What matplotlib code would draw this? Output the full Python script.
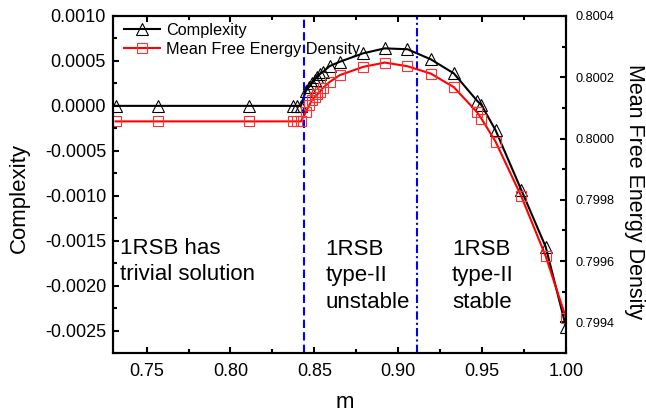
import matplotlib
matplotlib.use('Agg')
import matplotlib.pyplot as plt
from matplotlib.ticker import MultipleLocator, FormatStrFormatter

plt.rcParams['font.family'] = ['Liberation Sans', 'DejaVu Sans']
plt.rcParams['axes.unicode_minus'] = False

# data
m = [0.7315, 0.7566, 0.8110, 0.8374, 0.8396, 0.8420, 0.8449, 0.8469, 0.8485,
     0.8501, 0.8517, 0.8533, 0.8552, 0.8592, 0.8652, 0.8791, 0.8920, 0.9055,
     0.9194, 0.9331, 0.9470, 0.9496, 0.9580, 0.9734, 0.9879, 1.0000]
complexity = [0, 0, 0, 0, 0, 0, 0.000165, 0.000213, 0.000251, 0.000287,
              0.000324, 0.000354, 0.000380, 0.000443, 0.000491, 0.000585,
              0.000640, 0.000630, 0.000518, 0.000362, 0.000057, 0.000009,
              -0.000270, -0.000938, -0.001569, -0.002460]
mfed = [0.800056, 0.800056, 0.800056, 0.800056, 0.800056, 0.800056,
        0.800086, 0.800108, 0.800125, 0.800135, 0.800144, 0.800152,
        0.800166, 0.800185, 0.800207, 0.800234, 0.800248, 0.800236,
        0.800212, 0.800168, 0.800086, 0.800065, 0.799990, 0.799811,
        0.799616, 0.799414]
m_unstable = 0.8438
m_stable = 0.911

fig = plt.figure(figsize=(6.46, 4.13), dpi=100)
ax = fig.add_axes([113/646, 1-353/413, 453/646, 337/413])
ax2 = ax.twinx()

l1, = ax.plot(m, complexity, color='black', lw=1.5, marker='^', ms=8,
              mfc='none', mec='black', mew=0.8, label='Complexity')
l2, = ax2.plot(m, mfed, color='red', lw=1.5, marker='s', ms=7,
               mfc='none', mec='#ff3030', mew=0.8, label='Mean Free Energy Density')

ax.axvline(m_unstable, color='#0000ff', lw=1.5, dashes=(4, 2))
ax.axvline(m_stable, color='#0000ff', lw=1.5, dashes=(4, 1.5, 1, 1.5))

ax.set_xlim(0.73, 1.0)
ax.set_ylim(-0.00275, 0.001)
ax2.set_ylim(0.7993, 0.8004)

ax.xaxis.set_major_locator(MultipleLocator(0.05))
ax.xaxis.set_minor_locator(MultipleLocator(0.025))
ax.yaxis.set_major_locator(MultipleLocator(0.0005))
ax.yaxis.set_minor_locator(MultipleLocator(0.00025))
ax2.yaxis.set_major_locator(MultipleLocator(0.0002))
ax2.yaxis.set_minor_locator(MultipleLocator(0.0001))
ax.xaxis.set_major_formatter(FormatStrFormatter('%.2f'))
ax.yaxis.set_major_formatter(FormatStrFormatter('%.4f'))
ax2.yaxis.set_major_formatter(FormatStrFormatter('%.4f'))

for a in (ax, ax2):
    for s in a.spines.values():
        s.set_linewidth(1.5)
ax.tick_params(which='both', direction='in', top=True, right=False, width=1.5)
ax.tick_params(which='major', length=4.5, labelsize=13, pad=5)
ax.tick_params(axis='x', which='major', pad=7)
ax.tick_params(which='minor', length=3)
ax2.tick_params(which='both', direction='in', width=1.5)
ax2.tick_params(which='major', length=4.5, labelsize=9.2, pad=6.5)
ax2.tick_params(which='minor', length=3)

fig.text(19/646, 1-198/413, 'Complexity', rotation=90, ha='center', va='center', fontsize=16)
fig.text(345/646, 1-403/413, 'm', ha='center', va='center', fontsize=16)
fig.text(635/646, 1-192/413, 'Mean Free Energy Density', rotation=-90,
         ha='center', va='center', fontsize=15.5)

ax.text(0.0155, 0.2715, '1RSB has\ntrivial solution', transform=ax.transAxes,
        ha='left', va='center', fontsize=16, linespacing=1.35)
ax.text(0.4695, 0.229, '1RSB\ntype-II\nunstable', transform=ax.transAxes,
        ha='left', va='center', fontsize=16, linespacing=1.35)
ax.text(0.748, 0.229, '1RSB\ntype-II\nstable', transform=ax.transAxes,
        ha='left', va='center', fontsize=16, linespacing=1.35)

ax2.legend([l1, l2], [l1.get_label(), l2.get_label()], loc='upper left',
           bbox_to_anchor=(0.024, 0.979), frameon=False, fontsize=11.7,
           borderpad=0, borderaxespad=0, handlelength=2.2, handletextpad=0.37,
           labelspacing=0.25)

fig.savefig('out.png', dpi=100)
